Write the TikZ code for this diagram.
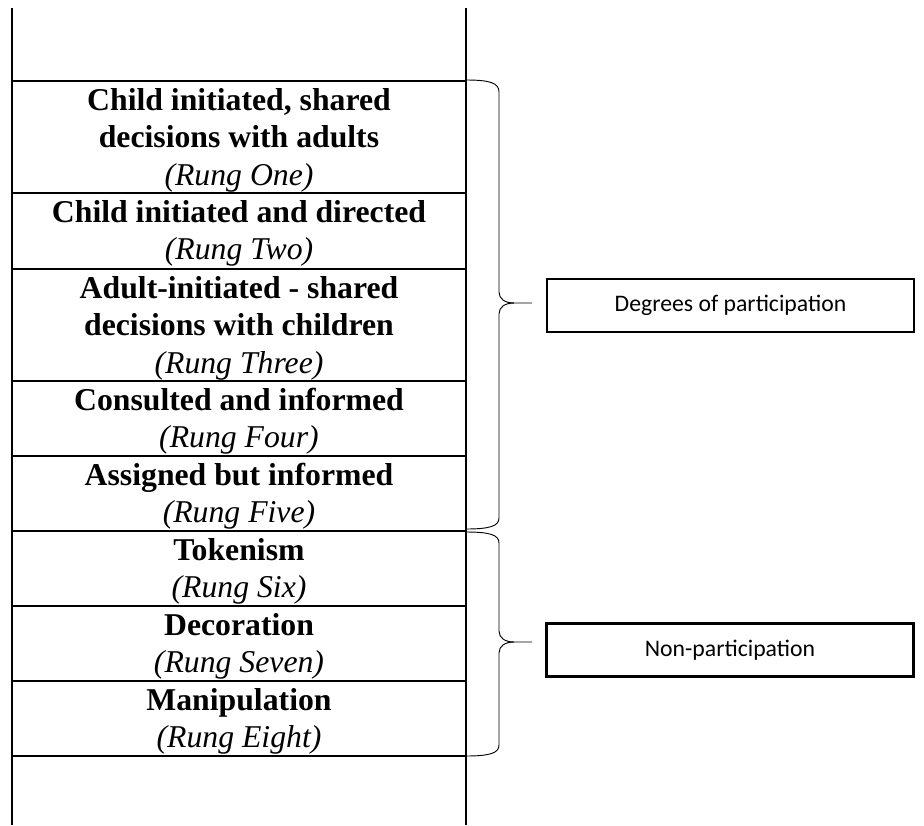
\documentclass[tikz,border=0pt]{standalone}
\usepackage{fontspec}
\setmainfont{Liberation Serif}
\newfontfamily\calfont{Carlito}
\begin{document}
\begin{tikzpicture}[x=0.75pt,y=-0.75pt,
  frame/.style={line width=1.5pt},
  bracel/.style={line width=0.7pt},
  rungtext/.style={anchor=north, inner sep=0pt, align=center,
    font=\fontsize{23.8}{28.125}\selectfont\bfseries},
  labelbox/.style={draw, line width=1.9pt, inner sep=0pt,
    minimum width=275.5pt, minimum height=40pt,
    font=\calfont\fontsize{17.8}{21}\selectfont}]
\useasboundingbox (0,0) rectangle (924,825);
\newcommand{\rs}{\rule{0pt}{21.75pt}}
% ladder frame
\draw[frame] (12,8) -- (12,825);
\draw[frame] (466,8) -- (466,825);
\foreach \yy in {81,193,269,381,456,531,606,681,756}
  \draw[frame] (12,\yy) -- (466,\yy);
% rung texts
\node[rungtext] (r1) at (239,81) {\rs Child initiated, shared\\decisions with adults\\\textmd{\itshape(Rung One)}};
\node[rungtext] (r2) at (239,193) {\rs Child initiated and directed\\\textmd{\itshape(Rung Two)}};
\node[rungtext] (r3) at (239,269) {\rs Adult-initiated - shared\\decisions with children\\\textmd{\itshape(Rung Three)}};
\node[rungtext] (r4) at (239,381) {\rs Consulted and informed\\\textmd{\itshape(Rung Four)}};
\node[rungtext] (r5) at (239,456) {\rs Assigned but informed\\\textmd{\itshape(Rung Five)}};
\node[rungtext] (r6) at (239,531) {\rs Tokenism\\\textmd{\itshape(Rung Six)}};
\node[rungtext] (r7) at (239,606) {\rs Decoration\\\textmd{\itshape(Rung Seven)}};
\node[rungtext] (r8) at (239,681) {\rs Manipulation\\\textmd{\itshape(Rung Eight)}};
% label boxes
\node[labelbox] (dp) at (730.5,305.5) {Degrees of participation};
\node[labelbox] (np) at (730,650) {Non-participation};
% braces
\coordinate (b1) at (532,303);
\coordinate (b2) at (532,642);
\draw[bracel] (466,80) .. controls (490,80) and (499,83) .. (499,92) -- (499,292)
  .. controls (499,299) and (505,303) .. (514,303) -- (b1);
\draw[bracel] (514,303) .. controls (505,303) and (499,307) .. (499,314) -- (499,518)
  .. controls (499,526) and (490,529) .. (466,529);
\draw[bracel] (466,532) .. controls (490,532) and (499,535) .. (499,543) -- (499,631)
  .. controls (499,638) and (505,642) .. (514,642) -- (b2);
\draw[bracel] (514,642) .. controls (505,642) and (499,646) .. (499,653) -- (499,745)
  .. controls (499,753) and (490,756) .. (466,756);
\end{tikzpicture}
\end{document}
